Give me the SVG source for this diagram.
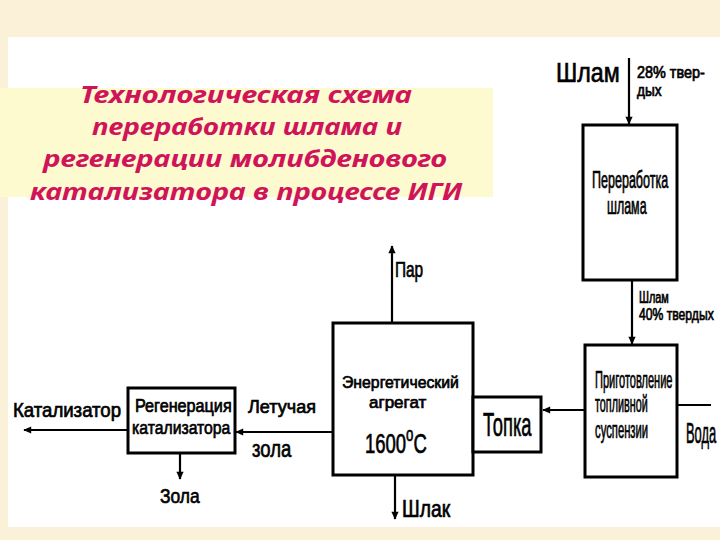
<svg xmlns="http://www.w3.org/2000/svg" width="720" height="540" viewBox="0 0 720 540">
<defs>
<marker id="ah" viewBox="0 0 10 10" refX="9" refY="5" markerWidth="9" markerHeight="8" markerUnits="userSpaceOnUse" orient="auto">
<path d="M0,0.5 L10,5 L0,9.5 z" fill="#000"/>
</marker>
<style>
.box{fill:#fff;stroke:#000;stroke-width:3}
.ln{stroke:#000;stroke-width:2.2;fill:none}
.t{font-family:"Liberation Sans",Arial,sans-serif;fill:#000;stroke:#000;stroke-width:0.7}
.ttl{font-family:"Noto Sans","Liberation Sans",sans-serif;font-style:italic;font-weight:bold;fill:#d0145a;font-size:24px}
</style>
</defs>
<rect x="0" y="0" width="720" height="540" fill="#fbf0d8"/>
<rect x="8" y="37" width="712" height="490" fill="#ffffff"/>
<g id="title">
<rect x="0" y="88" width="493" height="109" fill="#fdfad0"/>
<text class="ttl" x="80" y="103" textLength="332" lengthAdjust="spacingAndGlyphs">Технологическая схема</text>
<text class="ttl" x="92" y="135" textLength="310" lengthAdjust="spacingAndGlyphs">переработки шлама и</text>
<text class="ttl" x="43" y="167" textLength="404" lengthAdjust="spacingAndGlyphs">регенерации молибденового</text>
<text class="ttl" x="30" y="200" textLength="432" lengthAdjust="spacingAndGlyphs">катализатора в процессе ИГИ</text>
</g>
<g id="connectors">
<path class="ln" d="M629,58 V124" marker-end="url(#ah)"/>
<path class="ln" d="M632,281 V344" marker-end="url(#ah)"/>
<path class="ln" d="M585,410 H543" marker-end="url(#ah)"/>
<path class="ln" d="M711,405 H678"/>
<path class="ln" d="M392,322 V246" marker-end="url(#ah)"/>
<path class="ln" d="M395,476 V519" marker-end="url(#ah)"/>
<path class="ln" d="M333,432 H236" marker-end="url(#ah)"/>
<path class="ln" d="M128,430 H24" marker-end="url(#ah)"/>
<path class="ln" d="M180,454 V479" marker-end="url(#ah)"/>
</g>
<g id="input-labels">
<text class="t" font-size="27" transform="translate(556,82) scale(0.86,1)">Шлам</text>
<text class="t" font-size="16" transform="translate(637,78) scale(0.9,1)">28% твер-</text>
<text class="t" font-size="16" transform="translate(637,96) scale(0.85,1)">дых</text>
<text class="t" font-size="16" transform="translate(639,303) scale(0.68,1)">Шлам</text>
<text class="t" font-size="16" transform="translate(639,320) scale(0.76,1)">40% твердых</text>
<text class="t" font-size="30" transform="translate(686,443) scale(0.43,1)">Вода</text>
<text class="t" font-size="22" transform="translate(395,277) scale(0.7,1)">Пар</text>
<text class="t" font-size="23" transform="translate(402,517) scale(0.84,1)">Шлак</text>
<text class="t" font-size="20" transform="translate(13,417) scale(0.93,1)">Катализатор</text>
<text class="t" font-size="19" transform="translate(248,413) scale(0.95,1)">Летучая</text>
<text class="t" font-size="24" transform="translate(252,457) scale(0.77,1)">зола</text>
<text class="t" font-size="21" transform="translate(160,503) scale(0.83,1)">Зола</text>
</g>
<g id="pererabotka">
<rect class="box" x="583" y="125" width="94" height="155"/>
<text class="t" font-size="23" transform="translate(592,188) scale(0.545,1)">Переработка</text>
<text class="t" font-size="23" transform="translate(607,214) scale(0.54,1)">шлама</text>
</g>
<g id="prigotovlenie">
<rect class="box" x="585" y="345" width="92" height="132"/>
<text class="t" font-size="23" transform="translate(595,388) scale(0.48,1)">Приготовление</text>
<text class="t" font-size="23" transform="translate(595,412) scale(0.47,1)">топливной</text>
<text class="t" font-size="23" transform="translate(595,438) scale(0.49,1)">суспензии</text>
</g>
<g id="energo">
<rect class="box" x="333" y="323" width="140" height="152"/>
<text class="t" font-size="17" transform="translate(342,388) scale(0.93,1)">Энергетический</text>
<text class="t" font-size="17" transform="translate(369,408)">агрегат</text>
<text class="t" font-size="28" transform="translate(365,453) scale(0.66,1)">1600<tspan font-size="20" dy="-12">o</tspan><tspan dy="12">C</tspan></text>
</g>
<g id="topka">
<rect class="box" x="473" y="397" width="68" height="55"/>
<text class="t" font-size="34" transform="translate(483,436) scale(0.54,1)">Топка</text>
</g>
<g id="regeneraciya">
<rect class="box" x="128" y="388" width="107" height="65"/>
<text class="t" font-size="18" transform="translate(135,412) scale(0.9,1)">Регенерация</text>
<text class="t" font-size="19" transform="translate(132,434) scale(0.83,1)">катализатора</text>
</g>
</svg>
